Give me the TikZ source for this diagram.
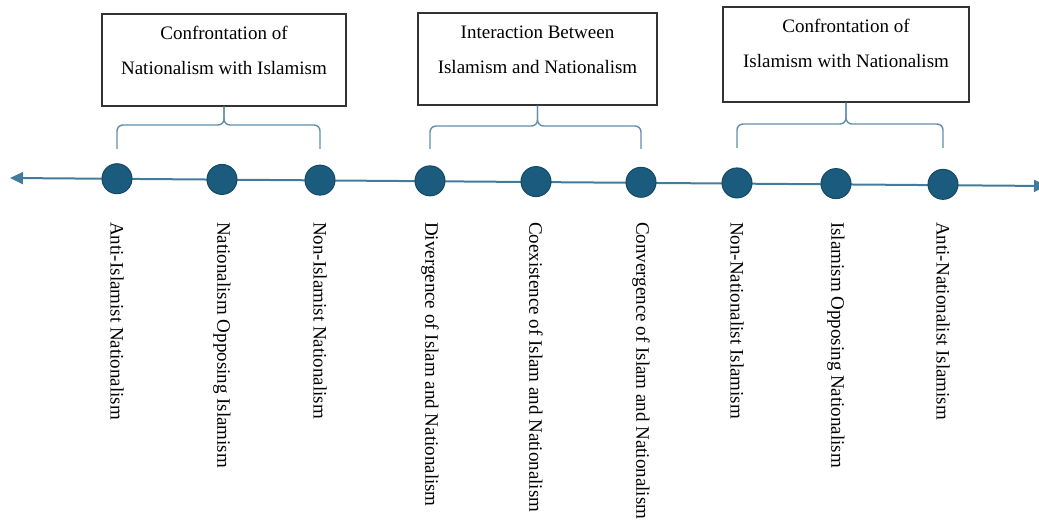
\documentclass[tikz,border=0pt]{standalone}
\usepackage{fontspec}
\setmainfont{Liberation Serif}
\usetikzlibrary{arrows.meta,calc}

\definecolor{stagefill}{RGB}{27,92,126}
\definecolor{stageline}{RGB}{22,72,98}
\definecolor{axisline}{RGB}{66,124,156}
\definecolor{bracecol}{RGB}{96,144,172}

\tikzset{
  stage/.style={circle,fill=stagefill,draw=stageline,line width=1pt,minimum size=30pt,inner sep=0pt},
  boxframe/.style={draw=black!80,line width=1.2pt,inner sep=0pt},
  boxtitle/.style={align=center,font=\fontsize{19}{35}\selectfont,inner sep=0pt},
  stagelabel/.style={rotate=-90,anchor=west,font=\fontsize{19}{23}\selectfont,inner sep=0pt},
  bracket/.style={draw=bracecol,line width=1.4pt,rounded corners=6pt},
  axis/.style={draw=axisline,line width=2pt,{Triangle[length=13pt,width=12pt]}-{Triangle[length=13pt,width=12pt]}},
}

\begin{document}
\begin{tikzpicture}[x=1pt,y=-1pt]
  \useasboundingbox (0,0) rectangle (1039,521);

  % time line
  \coordinate (lend) at (10,178);
  \coordinate (rend) at (1047,186);
  \draw[axis] (lend) -- (rend);

  % stages on the line
  \foreach \x/\txt [count=\i] in {
      117/Anti-Islamist Nationalism,
      222/Nationalism Opposing Islamism,
      320/Non-Islamist Nationalism,
      430/Divergence of Islam and Nationalism,
      536/Coexistence of Islam and Nationalism,
      641/Convergence of Islam and Nationalism,
      737/Non-Nationalist Islamism,
      836/Islamism Opposing Nationalism,
      943/Anti-Nationalist Islamism} {
    \pgfmathsetmacro\yy{178+7*(\x-10)/1029}
    \node[stage] (n\i) at (\x,\yy) {};
    \node[stagelabel] (l\i) at (\x,222) {\txt};
  }

  % group boxes
  \node[boxframe,minimum width=244pt,minimum height=92pt] (box1) at (224,60) {};
  \node[boxtitle] (t1) at (224,50.5) {Confrontation of\\Nationalism with Islamism};
  \node[boxframe,minimum width=239pt,minimum height=92pt] (box2) at (537.5,59) {};
  \node[boxtitle] (t2) at (537.5,50) {Interaction Between\\Islamism and Nationalism};
  \node[boxframe,minimum width=246pt,minimum height=95pt] (box3) at (846,54.5) {};
  \node[boxtitle] (t3) at (846,43.5) {Confrontation of\\Islamism with Nationalism};

  % braces from the boxes to the stages
  \draw[bracket] (n1 |- 0,149) |- (box1.south |- 0,125) -- (box1.south);
  \draw[bracket] (n3 |- 0,149) |- (box1.south |- 0,125) -- (box1.south);
  \draw[bracket] (n4 |- 0,149) |- (box2.south |- 0,126) -- (box2.south);
  \draw[bracket] (n6 |- 0,149) |- (box2.south |- 0,126) -- (box2.south);
  \draw[bracket] (n7 |- 0,148) |- (box3.south |- 0,124) -- (box3.south);
  \draw[bracket] (n9 |- 0,148) |- (box3.south |- 0,124) -- (box3.south);
\end{tikzpicture}
\end{document}
